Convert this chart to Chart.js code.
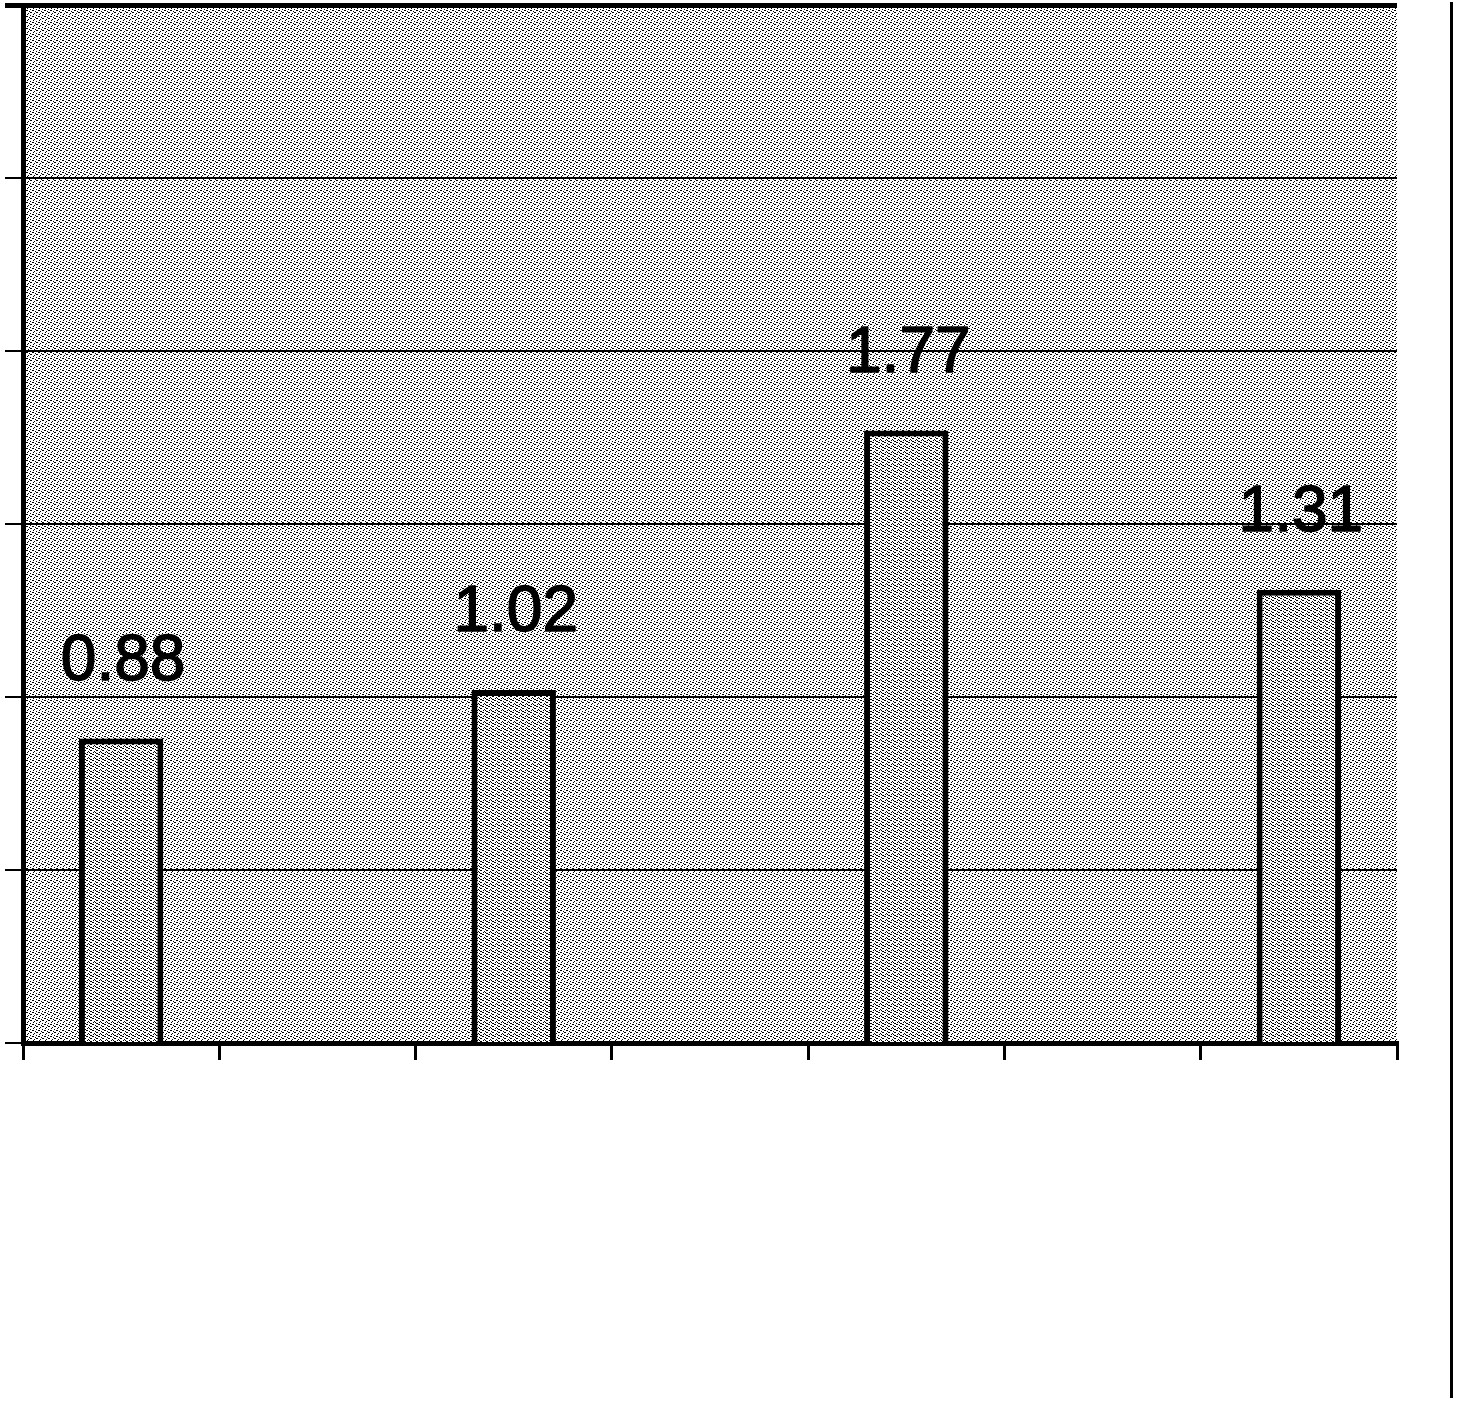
<!DOCTYPE html>
<html>
<head>
<meta charset="utf-8">
<script src="https://cdn.jsdelivr.net/npm/chart.js@4.4.1/dist/chart.umd.min.js"></script>
<style>
  body { margin: 0; background: #fff; }
  #wrap { position: relative; width: 1464px; height: 1408px; }
  #frame { position: absolute; left: 1450px; top: 2px; width: 3px; height: 1396px; background: #000; }
</style>
</head>
<body>
<div id="wrap">
  <canvas id="chart" width="1464" height="1408"></canvas>
  <div id="frame"></div>
</div>
<script>
// categories along the x axis (only every other slot holds a bar)
const categories = ['1', '2', '3', '4', '5', '6', '7'];
const values = [0.88, null, 1.02, null, 1.77, null, 1.31];
const yTicks = [0, 0.5, 1, 1.5, 2, 2.5, 3];

// dotted screen fill like the scanned original
function makePattern(dots) {
  const c = document.createElement('canvas');
  c.width = 6;
  c.height = 6;
  const g = c.getContext('2d');
  g.fillStyle = '#fff';
  g.fillRect(0, 0, 6, 6);
  g.fillStyle = '#000';
  dots.forEach(function (d) { g.fillRect(d[0], d[1], 1, 1); });
  return g.createPattern(c, 'repeat');
}

const ctx = document.getElementById('chart').getContext('2d');
const bgDots = [[0, 0], [1, 0], [4, 1], [3, 2], [0, 3], [2, 4], [3, 4], [5, 5]];
const bgPattern = makePattern(bgDots);
const barPattern = makePattern(bgDots.concat([[5, 2], [1, 3]]));

const backdrop = {
  id: 'backdrop',
  beforeDraw(chart) {
    const a = chart.chartArea;
    const g = chart.ctx;
    g.save();
    g.fillStyle = bgPattern;
    g.fillRect(a.left, a.top, a.right - a.left, a.bottom - a.top);
    g.restore();
  }
};

const valueLabels = {
  id: 'valueLabels',
  afterDatasetsDraw(chart) {
    const g = chart.ctx;
    const meta = chart.getDatasetMeta(0);
    g.save();
    g.font = '64px "Liberation Sans", Arial, sans-serif';
    g.fillStyle = '#000';
    g.strokeStyle = '#000';
    g.lineWidth = 1.5;
    g.lineJoin = 'round';
    g.textAlign = 'center';
    g.textBaseline = 'alphabetic';
    meta.data.forEach(function (bar, i) {
      if (values[i] === null) return;
      const txt = values[i].toFixed(2);
      g.strokeText(txt, bar.x + 2, bar.y - 59);
      g.fillText(txt, bar.x + 2, bar.y - 59);
    });
    g.restore();
  }
};

new Chart(ctx, {
  type: 'bar',
  data: {
    labels: categories,
    datasets: [{
      data: values,
      backgroundColor: barPattern,
      borderColor: '#000',
      borderWidth: 6,
      categoryPercentage: 1,
      barPercentage: 0.43
    }]
  },
  options: {
    responsive: false,
    animation: false,
    devicePixelRatio: 1,
    layout: { padding: { top: 5, right: 67, left: 0, bottom: 0 } },
    plugins: { legend: { display: false }, tooltip: { enabled: false } },
    scales: {
      x: {
        afterFit: function (s) { s.height = 365; },
        ticks: { display: false },
        grid: { drawOnChartArea: false, drawTicks: true, tickLength: 17, color: '#000', lineWidth: 3 },
        border: { display: true, color: '#000', width: 5 }
      },
      y: {
        min: yTicks[0],
        max: yTicks[yTicks.length - 1],
        afterFit: function (s) { s.width = 23; },
        afterBuildTicks: function (s) { s.ticks = yTicks.map(function (v) { return { value: v }; }); },
        ticks: { display: false },
        grid: {
          color: '#000',
          lineWidth: function (c) { return c.tick && c.tick.value === 3 ? 5 : 2; },
          tickLength: 18,
          drawTicks: true
        },
        border: { display: true, color: '#000', width: 5 }
      }
    }
  },
  plugins: [backdrop, valueLabels]
});
</script>
</body>
</html>
